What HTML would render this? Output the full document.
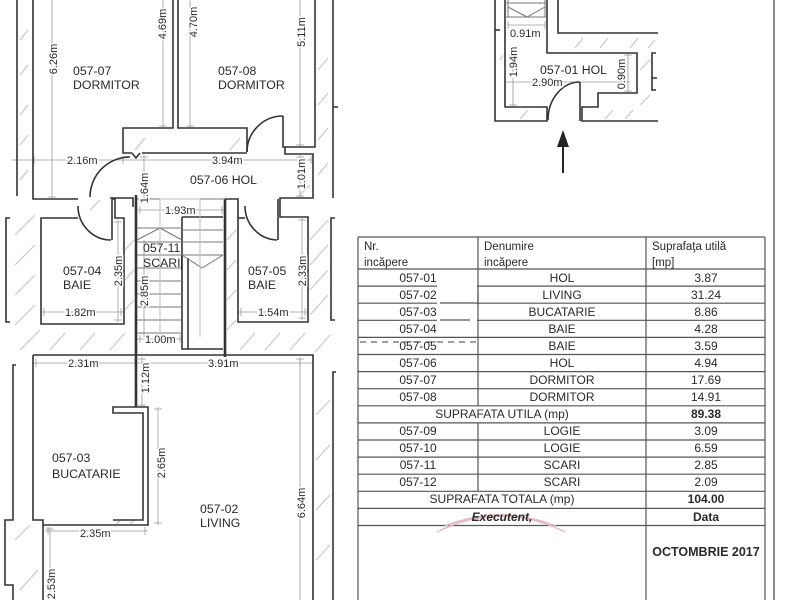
<!DOCTYPE html>
<html><head><meta charset="utf-8"><style>
html,body{margin:0;padding:0;background:#fff;}
svg{display:block;}
.w{stroke:#333;stroke-width:1.6;fill:none;}
.wt{stroke:#333;stroke-width:2.6;fill:none;}
.t{stroke:#777;stroke-width:1;fill:none;}
.g{stroke:#bdbdbd;stroke-width:1;fill:none;}
.d{stroke:#9a9a9a;stroke-width:0.8;fill:none;}
.h{stroke:#c9c9c9;stroke-width:1.2;fill:none;}
.tb{stroke:#555;stroke-width:1.2;fill:none;}
text{font-family:"Liberation Sans",Arial,sans-serif;fill:#2a2a2a;}
.lb{font-size:12.3px;}
.dm{font-size:11px;fill:#333;stroke:#fff;stroke-width:3px;paint-order:stroke;}
.tx{font-size:12px;fill:#333;}
.hd{font-size:11.5px;fill:#444;}
</style></head><body>
<svg width="800" height="600" viewBox="0 0 800 600" xmlns="http://www.w3.org/2000/svg">
<rect width="800" height="600" fill="#fff"/>

<!-- ============ HATCHING ============ -->
<g class="h">
<path d="M20 40L28 30M20 75L28 65M20 115L28 105M20 145L28 135M20 180L28 170"/>
<path d="M318 70L328 58M318 105L328 93M318 140L328 128M318 175L328 163"/>
<path d="M15 235L35 215M15 265L35 245M15 295L35 275M15 325L35 305M20 350L40 330"/>
<path d="M125 250L134 240M125 280L134 270M125 310L134 300"/>
<path d="M50 350L65 333M80 350L95 333M110 350L125 333"/>
<path d="M227 240L236 230M227 270L236 260M227 300L236 290M227 330L236 320"/>
<path d="M240 350L255 333M265 350L280 333M290 350L305 333M315 352L330 335"/>
<path d="M310 240L328 220M310 265L328 245M310 290L328 270M310 315L328 295"/>
<path d="M316 415L330 400M316 460L330 445M316 510L330 495M316 560L330 545"/>
<path d="M15 540L30 525M20 590L38 570"/>
<path d="M135 150L145 138M230 150L240 138M300 195L310 185M90 210L100 200"/>
<path d="M116 524L122 519M130 524L136 519"/>
<path d="M575 48L583 38M600 48L608 38M630 48L638 38M648 48L655 40M640 70L650 60M640 105L650 95M605 119L613 110M625 119L633 110M520 119L528 110M500 60L503 55"/>
</g>

<!-- ============ DIMENSION LINES ============ -->
<g class="d">
<path d="M52 0V199M48 197H56"/>
<path d="M163 0V128M159 126H167"/>
<path d="M190 0V128M186 126H194"/>
<path d="M300 0V147M296 145H304"/>
<path d="M12 160H130M34 156V164M123 156V164"/>
<path d="M130 160H313M311 156V164"/>
<path d="M300 155V198M296 157H304M296 196H304"/>
<path d="M144 155V199M140 157H148"/>
<path d="M137 210H225M140 206V214M222 206V214"/>
<path d="M118 220V322M114 222H122M114 320H122"/>
<path d="M41 312H124M44 308V316M121 308V316"/>
<path d="M144 240V337M140 242H148"/>
<path d="M137 339H182M140 335V343M180 335V343"/>
<path d="M302 218V320M298 220H306M298 318H306"/>
<path d="M238 312H308M241 308V316M305 308V316"/>
<path d="M33 363H137M36 359V367M135 359V367"/>
<path d="M137 363H313M300 359V367"/>
<path d="M142 357V407M138 359H146M138 405H146"/>
<path d="M158 407V525M154 409H162M154 523H162"/>
<path d="M45 531H148M48 527V535M145 527V535"/>
<path d="M300 357V600M296 359H304"/>
<path d="M50 527V600M46 529H54"/>
<path d="M508 25H545M508 21V29M545 21V29"/>
<path d="M513 53V107M509 55H517M509 105H517"/>
<path d="M505 82H630"/>
<path d="M628 53V93M624 55H632M624 91H632"/>
</g>

<!-- ============ WALLS (main plan) ============ -->
<g class="w">
<!-- outer left -->
<path d="M17 0V196"/>
<path d="M33 0V199H78"/>
<path d="M10 218H6V322H10"/>
<path d="M16 365H13V520H5V585H13V600"/>
<!-- bedrooms -->
<path d="M173 0V128H123V153H132"/>
<path d="M178 0V128H247V152"/>
<path d="M142 153H247"/>
<path d="M132 153L136 158L140 153"/>
<path d="M283 116V147H315V0"/>
<path d="M247 152A36 36 0 0 1 283 116"/>
<path d="M285 147V154H313V198H280V217H308V322H238V199H225"/>
<path d="M333 0V198M333 107H338"/>
<path d="M335 218H331V320H335"/>
<path d="M336 372H333V600"/>
<!-- hol left door -->
<path d="M130 157A40 40 0 0 0 90 197"/>
<path d="M110 198H133V207"/>
<!-- baie 04 -->
<path d="M112 199V240"/>
<path d="M78 206A33 34 0 0 0 111 240"/>
<path d="M112 199H115V218H124V324H41V218H78"/>
<!-- baie 05 door -->
<path d="M278 199V240"/>
<path d="M245 206A33 34 0 0 0 277 240"/>
<path d="M238 218H245"/>
<!-- stair frame -->
<path d="M182 217V349H223M188 258V349M182 217H223"/>
<!-- living/kitchen -->
<path d="M33 355H313V600"/>
<path d="M33 355V520H43V600"/>
<path d="M43 525H148V407H113V413H143V520H113"/>
</g>
<g class="wt">
<path d="M136 195V407"/>
<path d="M225 199V357"/>
</g>
<!-- stair treads -->
<g class="t">
<path d="M137 199H225"/>
<path d="M137 228H182M137 242H182M137 255H182M137 268H182M137 281H182M137 294H182M137 307H182M137 320H182M137 333H182"/>
<path d="M182 230H223M182 242H223M182 255H223"/>
<path d="M137 240L160 228L182 240"/>
<path d="M182 255L202 268L223 255"/>
</g>
<g class="g"><path d="M160 199V337M200 199V337M160 199H200"/></g>

<!-- ============ TOP-RIGHT MINI PLAN ============ -->
<g class="w">
<path d="M495 0V121H547V107H505V0"/>
<path d="M547 0V53H637V93H598V107H582V121H658"/>
<path d="M558 0V33H658"/>
<path d="M580 82V121"/>
<path d="M548 120A32 38 0 0 1 580 82"/>
<path d="M656 53H652V90H656M652 78H657"/>
<path d="M495 30H500"/>
</g>
<g class="t">
<path d="M505 17H547M508 0V17M545 0V17M505 3H547M508 7L527 17L545 7"/>
</g>
<path d="M563 142V173" stroke="#222" stroke-width="2"/>
<path d="M563 130L557 147H569Z" fill="#222"/>

<!-- ============ FRAME ============ -->
<path d="M774 0V600" stroke="#666" stroke-width="1.5"/>

<!-- ============ PLAN LABELS ============ -->
<g class="lb">
<text x="73" y="75">057-07</text><text x="73" y="89">DORMITOR</text>
<text x="218" y="75">057-08</text><text x="218" y="89">DORMITOR</text>
<text x="190" y="184">057-06 HOL</text>
<text x="63" y="275">057-04</text><text x="63" y="289">BAIE</text>
<text x="143" y="252">057-11</text><text x="143" y="267">SCARI</text>
<text x="248" y="275">057-05</text><text x="248" y="289">BAIE</text>
<text x="52" y="462">057-03</text><text x="52" y="478">BUCATARIE</text>
<text x="200" y="513">057-02</text><text x="200" y="527">LIVING</text>
<text x="540" y="74">057-01 HOL</text>
</g>
<rect x="181" y="256" width="1.6" height="14" fill="#333"/>
<g class="dm">
<text x="67" y="164">2.16m</text>
<text x="212" y="164">3.94m</text>
<text x="165" y="214">1.93m</text>
<text x="65" y="316">1.82m</text>
<text x="145" y="343">1.00m</text>
<text x="258" y="316">1.54m</text>
<text x="68" y="367">2.31m</text>
<text x="208" y="367">3.91m</text>
<text x="80" y="537">2.35m</text>
<text x="510" y="37">0.91m</text>
<text x="532" y="86">2.90m</text>
<text transform="translate(57,59) rotate(-90)" text-anchor="middle">6.26m</text>
<text transform="translate(166,24) rotate(-90)" text-anchor="middle">4.69m</text>
<text transform="translate(197,22) rotate(-90)" text-anchor="middle">4.70m</text>
<text transform="translate(305,32) rotate(-90)" text-anchor="middle">5.11m</text>
<text transform="translate(305,174) rotate(-90)" text-anchor="middle">1.01m</text>
<text transform="translate(148,188) rotate(-90)" text-anchor="middle">1.64m</text>
<text transform="translate(122,271) rotate(-90)" text-anchor="middle">2.35m</text>
<text transform="translate(148,291) rotate(-90)" text-anchor="middle">2.85m</text>
<text transform="translate(306,271) rotate(-90)" text-anchor="middle">2.33m</text>
<text transform="translate(149,378) rotate(-90)" text-anchor="middle">1.12m</text>
<text transform="translate(165,463) rotate(-90)" text-anchor="middle">2.65m</text>
<text transform="translate(305,503) rotate(-90)" text-anchor="middle">6.64m</text>
<text transform="translate(55,584) rotate(-90)" text-anchor="middle">2.53m</text>
<text transform="translate(517,62) rotate(-90)" text-anchor="middle">1.94m</text>
<text transform="translate(625,74) rotate(-90)" text-anchor="middle">0.90m</text>
</g>

<!-- ============ TABLE ============ -->
<g class="tb">
<path d="M358 237H765M358 237V600M765 237V600M646 237V600"/>
<path d="M478 237V405.8M478 422.9V491.3"/>
<path d="M358 269H765M358 286.1H765M358 303.2H765M358 320.3H765M358 337.4H765M358 354.5H765M358 371.6H765M358 388.7H765M358 405.8H765M358 422.9H765M358 440H765M358 457.1H765M358 474.2H765M358 491.3H765M358 508.4H765M358 525.5H765"/>
</g>
<!-- white-out blotch -->
<rect x="437" y="271" width="40" height="64" fill="#fff"/>
<rect x="360" y="322" width="76" height="14" fill="#fff"/>
<path d="M360 342H480" stroke="#666" stroke-width="1.2" stroke-dasharray="6 5"/>
<path d="M440 303H478M440 320H470M478 292V306" stroke="#555" stroke-width="1.2"/>
<path d="M437 532Q500 500 565 532M445 526Q500 504 556 526" stroke="#e6b9bd" stroke-width="1.4" fill="none"/>

<g class="hd">
<text x="364" y="250">Nr.</text><text x="364" y="266">incăpere</text>
<text x="484" y="250">Denumire</text><text x="484" y="266">incăpere</text>
<text x="652" y="250">Suprafaţa utilă</text><text x="652" y="266">[mp]</text>
</g>
<g class="tx" text-anchor="middle">
<text x="418" y="282">057-01</text><text x="562" y="282">HOL</text><text x="706" y="282">3.87</text>
<text x="418" y="299">057-02</text><text x="562" y="299">LIVING</text><text x="706" y="299">31.24</text>
<text x="418" y="316">057-03</text><text x="562" y="316">BUCATARIE</text><text x="706" y="316">8.86</text>
<text x="418" y="333" fill="#bbb">057-04</text><text x="562" y="333">BAIE</text><text x="706" y="333">4.28</text>
<text x="418" y="350">057-05</text><text x="562" y="350">BAIE</text><text x="706" y="350">3.59</text>
<text x="418" y="367">057-06</text><text x="562" y="367">HOL</text><text x="706" y="367">4.94</text>
<text x="418" y="384">057-07</text><text x="562" y="384">DORMITOR</text><text x="706" y="384">17.69</text>
<text x="418" y="401">057-08</text><text x="562" y="401">DORMITOR</text><text x="706" y="401">14.91</text>
<text x="502" y="418">SUPRAFATA UTILA (mp)</text><text x="706" y="418" font-weight="bold">89.38</text>
<text x="418" y="435">057-09</text><text x="562" y="435">LOGIE</text><text x="706" y="435">3.09</text>
<text x="418" y="452">057-10</text><text x="562" y="452">LOGIE</text><text x="706" y="452">6.59</text>
<text x="418" y="469">057-11</text><text x="562" y="469">SCARI</text><text x="706" y="469">2.85</text>
<text x="418" y="486">057-12</text><text x="562" y="486">SCARI</text><text x="706" y="486">2.09</text>
<text x="502" y="503">SUPRAFATA TOTALA (mp)</text><text x="706" y="503" font-weight="bold">104.00</text>
<text x="502" y="521" font-weight="bold" font-style="italic">Executent,</text><text x="706" y="521" font-weight="bold">Data</text>
<text x="706" y="556" font-weight="bold" font-size="12.5">OCTOMBRIE 2017</text>
</g>
</svg>
</body></html>
